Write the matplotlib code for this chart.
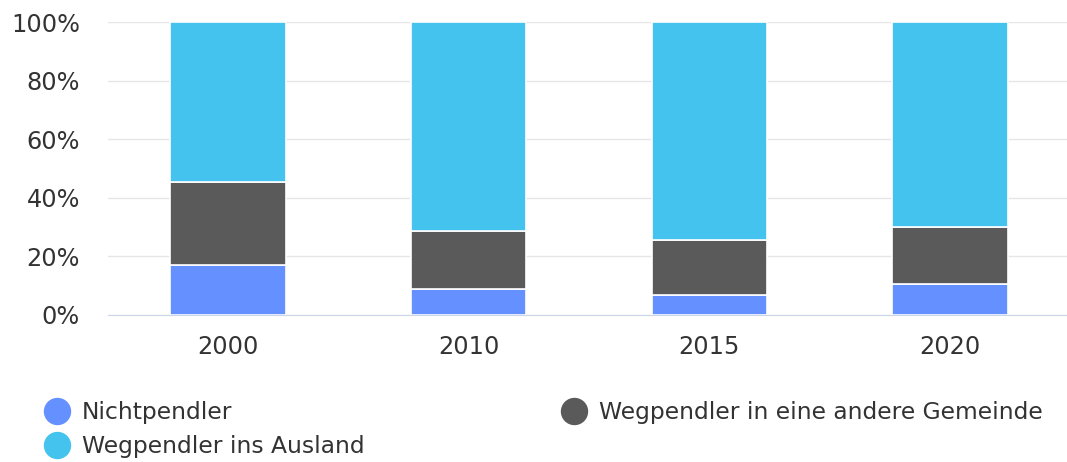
import matplotlib
matplotlib.use("Agg")
import matplotlib.pyplot as plt
from matplotlib.lines import Line2D
import numpy as np

years = ["2000", "2010", "2015", "2020"]
nichtpendler = [16.8, 8.6, 6.7, 10.4]
andere_gemeinde = [28.6, 19.9, 18.7, 19.4]
ausland = [54.6, 71.5, 74.6, 70.2]

labels = ["Nichtpendler", "Wegpendler in eine andere Gemeinde", "Wegpendler ins Ausland"]
colors = ["#6590ff", "#5a5a5b", "#45c3ef"]

plt.rcParams['font.family'] = ['DejaVu Sans']
FS = 17.3
LFS = 16.8

fig = plt.figure(figsize=(10.67, 4.62), dpi=100)
ax = fig.add_axes([0.101, 0.319, 0.902, 0.633])

x = np.arange(len(years))
bottom = np.zeros(len(years))
for vals, col in zip([nichtpendler, andere_gemeinde, ausland], colors):
    ax.bar(x, vals, bottom=bottom, width=0.48, color=col, edgecolor="white", linewidth=1.2, zorder=3)
    bottom += np.array(vals)

ax.set_xlim(-0.5, 3.5)
ax.set_ylim(0, 100)
ax.set_yticks([0, 20, 40, 60, 80, 100])
ax.set_yticklabels([f"{v}%" for v in [0, 20, 40, 60, 80, 100]])
ax.set_xticks(x)
ax.set_xticklabels(years)
ax.tick_params(axis="both", length=0, labelsize=FS, colors="#333333")
ax.tick_params(axis="y", pad=20)
ax.tick_params(axis="x", pad=15)
ax.grid(axis="y", color="#e6e6e6", linewidth=1, zorder=0)
for s in ["top", "right", "left"]:
    ax.spines[s].set_visible(False)
ax.spines["bottom"].set_color("#ccd6eb")
ax.spines["bottom"].set_zorder(4)

handles = [Line2D([], [], marker="o", linestyle="none", markersize=18.7, color=c) for c in colors]
order = [0, 2, 1]
leg = fig.legend([handles[i] for i in order], [labels[i] for i in order], ncol=2,
                 loc="upper left", bbox_to_anchor=(0.0406, 0.131), frameon=False,
                 fontsize=LFS, columnspacing=8.4, handletextpad=0.52, labelspacing=0.45,
                 handlelength=1.13, borderaxespad=0, borderpad=0)
for t in leg.get_texts():
    t.set_color("#333333")

fig.savefig("out.png", dpi=100, facecolor="white")
